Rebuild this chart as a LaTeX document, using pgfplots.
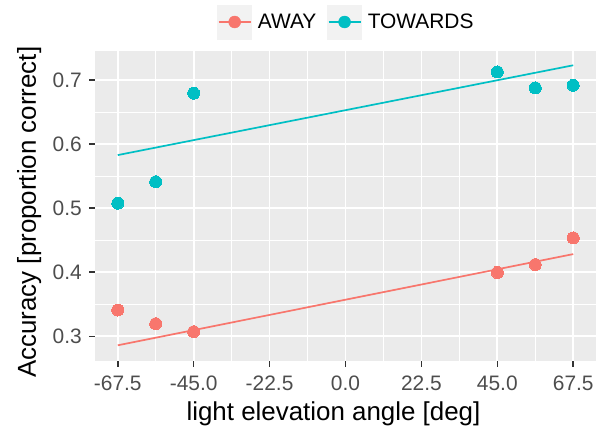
\documentclass[border=0pt]{standalone}
\usepackage{fontspec}
\setmainfont{Liberation Sans}
\usepackage{pgfplots}
\pgfplotsset{compat=1.18}

\definecolor{away}{HTML}{F8766D}
\definecolor{towards}{HTML}{00BFC4}
\definecolor{panelbg}{HTML}{EBEBEB}
\definecolor{keybg}{HTML}{F2F2F2}
\definecolor{ticktext}{HTML}{4D4D4D}
\definecolor{tickmark}{HTML}{333333}

\begin{document}
\begin{tikzpicture}
\path[use as bounding box] (-95bp,-72bp) rectangle (510bp,361bp);
\begin{axis}[
  scale only axis, width=501bp, height=310bp,
  xmin=-74.25, xmax=74.25, ymin=0.2615, ymax=0.7455,
  axis background/.style={fill=panelbg},
  axis line style={draw=none},
  xtick={-67.5,-45,-22.5,0,22.5,45,67.5},
  xticklabels={-67.5,-45.0,-22.5,0.0,22.5,45.0,67.5},
  minor xtick={-56.25,-33.75,-11.25,11.25,33.75,56.25},
  ytick={0.3,0.4,0.5,0.6,0.7},
  yticklabels={0.3,0.4,0.5,0.6,0.7},
  minor ytick={0.35,0.45,0.55,0.65},
  grid=both,
  major grid style={white, line width=1.7bp},
  minor grid style={white, line width=0.85bp},
  tick align=outside,
  xtick pos=lower, ytick pos=left,
  major tick length=5.5bp,
  minor tick length=0pt,
  major tick style={tickmark, line width=1.6bp},
  minor tick style={draw=none},
  xticklabel style={font=\fontsize{21}{21}\selectfont, text=ticktext, inner sep=0pt, anchor=north, yshift=-9.5bp},
  yticklabel style={font=\fontsize{21}{21}\selectfont, text=ticktext, inner sep=0pt, anchor=east, xshift=-7.5bp},
  xlabel={light elevation angle [deg]},
  ylabel={Accuracy [proportion correct]},
  xlabel style={font=\fontsize{26}{26}\selectfont, at={(axis description cs:0.476,-0.1935)}, anchor=base, inner sep=0pt},
  ylabel style={font=\fontsize{26}{26}\selectfont, at={(axis description cs:-0.1178,0.48)}, anchor=base, inner sep=0pt},
  legend style={at={(axis description cs:0.5,1.0935)}, anchor=center, draw=none, fill=none,
    font=\fontsize{21}{21}\selectfont, inner sep=0pt,
    nodes={inner sep=0pt},
    /tikz/every odd column/.append style={column sep=6bp},
    /tikz/every even column/.append style={column sep=11bp}},
  legend columns=2,
  clip=false,
]
% legend keys: grey square with a line and a dot
\addlegendimage{legend image code/.code={
  \fill[keybg] (0bp,-17bp) rectangle (34bp,17bp);
  \draw[away, line width=1.7bp] (1bp,0) -- (33bp,0);
  \fill[away] (17bp,0) circle (6bp);}}
\addlegendentry{AWAY}
\addlegendimage{legend image code/.code={
  \fill[keybg] (0bp,-17bp) rectangle (34bp,17bp);
  \draw[towards, line width=1.7bp] (1bp,0) -- (33bp,0);
  \fill[towards] (17bp,0) circle (6bp);}}
\addlegendentry{TOWARDS}

% fitted trend lines
\addplot[away, line width=1.7bp, forget plot] coordinates {(-67.5,0.2860) (67.5,0.4284)};
\addplot[towards, line width=1.7bp, forget plot] coordinates {(-67.5,0.5830) (67.5,0.7232)};

% mean accuracy per elevation angle
\addplot[away, only marks, mark=*, mark size=6bp, mark options={draw=away, fill=away, line width=0pt}, forget plot]
  coordinates {(-67.5,0.3411) (-56.25,0.3198) (-45,0.3073) (45,0.3997) (56.25,0.4121) (67.5,0.4537)};
\addplot[towards, only marks, mark=*, mark size=6bp, mark options={draw=towards, fill=towards, line width=0pt}, forget plot]
  coordinates {(-67.5,0.5078) (-56.25,0.5414) (-45,0.6796) (45,0.7128) (56.25,0.6879) (67.5,0.6920)};
\end{axis}
\end{tikzpicture}
\end{document}
